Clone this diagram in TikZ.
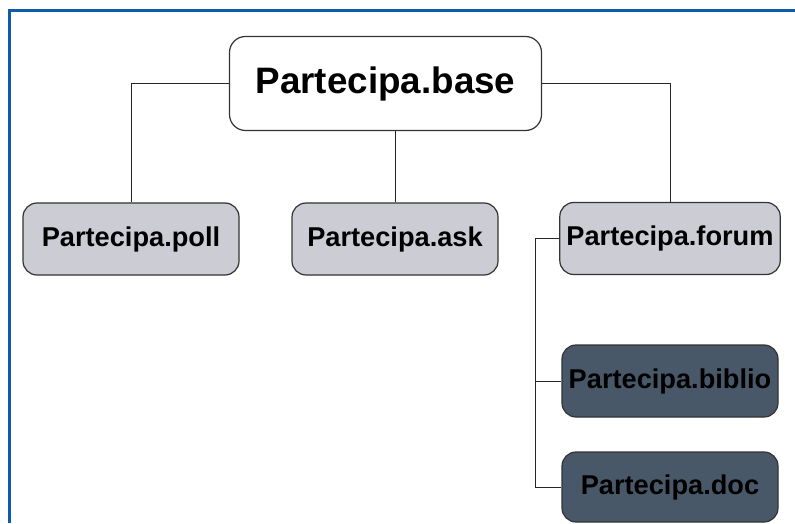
\documentclass[tikz,border=0pt]{standalone}
\usepackage{fontspec}
\setmainfont{Liberation Sans}
\usetikzlibrary{positioning}
\definecolor{pkglight}{HTML}{CBCCD4}
\definecolor{pkgdark}{HTML}{485869}
\definecolor{framblue}{HTML}{0B5CAD}
\begin{document}
\begin{tikzpicture}[x=0.5pt, y=-0.5pt,
    pkg/.style={draw=black!80, line width=0.6pt, rounded corners=7pt, fill=pkglight,
      minimum width=108pt, minimum height=36pt, font=\bfseries\fontsize{13.6}{15}\selectfont},
    subpkg/.style={pkg, fill=pkgdark},
    link/.style={draw=black!85, line width=0.5pt}]
    \useasboundingbox (0,0) rectangle (795,523);
    \draw[framblue, line width=1.5pt] (9,523) -- (9,11) -- (795,11);

    \node[pkg, fill=white, minimum width=156pt, minimum height=47pt, rounded corners=8pt,
      font=\bfseries\fontsize{18.4}{21}\selectfont] (base) at (385.5,83.5) {Partecipa.base};
    \node[pkg] (poll) at (131,239) {Partecipa.poll};
    \node[pkg, minimum width=103pt] (ask) at (395,239) {Partecipa.ask};
    \node[pkg] (forum) at (670,238.5) {Partecipa.forum};
    \node[subpkg] (biblio) at (670,381) {Partecipa.biblio};
    \node[subpkg, minimum height=35pt] (doc) at (670,487) {Partecipa.doc};

    \draw[link] (base.west) -| (poll.north);
    \draw[link] (base.east) -| (forum.north);
    \draw[link] (ask.north) -- (ask.north |- base.south);

    \coordinate (bus) at (535,238.5);
    \draw[link] (forum.west) -- (bus) |- (doc.west);
    \draw[link] (bus |- biblio.west) -- (biblio.west);
\end{tikzpicture}
\end{document}
